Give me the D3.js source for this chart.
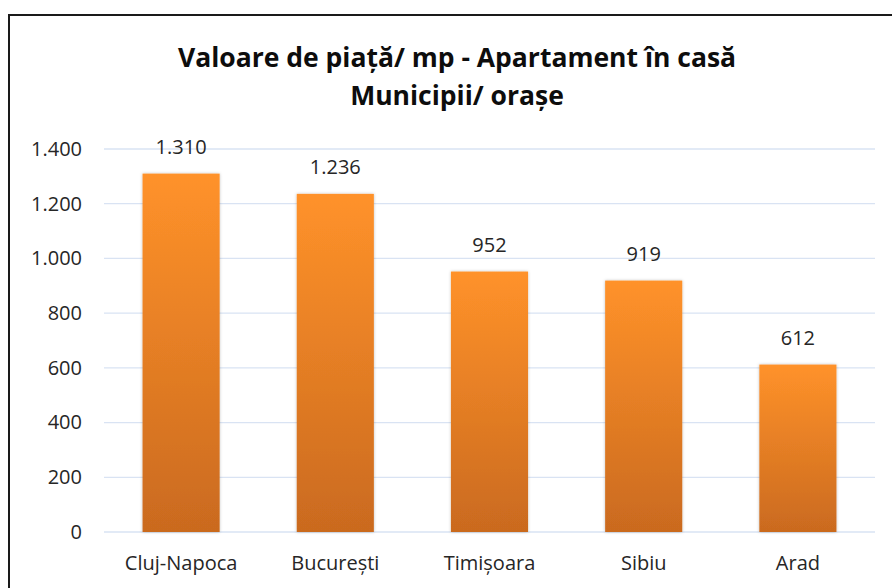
<!DOCTYPE html>
<html><head><meta charset="utf-8">
<script src="https://cdn.jsdelivr.net/npm/d3@7"></script>
<style>body{margin:0;background:#fff}svg{display:block}</style>
</head><body>
<svg id="c" width="892" height="588"></svg>
<script>
const categories = ["Cluj-Napoca","București","Timișoara","Sibiu","Arad"];
const values = [1310,1236,952,919,612];
const yTicks = [0,200,400,600,800,1000,1200,1400];
const titleLines = ["Valoare de piață/ mp - Apartament în casă","Municipii/ orașe"];

const svg = d3.select("#c");
const fmt = v => d3.format(",")(v).replace(/,/g,".");
const FONT = "'Open Sans', sans-serif";

const defs = svg.append("defs");
const g = defs.append("linearGradient").attr("id","bg").attr("x1",0).attr("y1",0).attr("x2",0).attr("y2",1);
g.append("stop").attr("offset","0%").attr("stop-color","#ff922a");
g.append("stop").attr("offset","100%").attr("stop-color","#ca6a1f");
const f = defs.append("filter").attr("id","sh").attr("x","-10%").attr("y","-10%").attr("width","120%").attr("height","120%");
f.append("feDropShadow").attr("dx",0).attr("dy",0).attr("stdDeviation",1.5).attr("flood-color","#000").attr("flood-opacity",0.25);

// outer frame
svg.append("rect").attr("x",9).attr("y",15).attr("width",900).attr("height",600)
  .attr("fill","#fff").attr("stroke","#1a1a1a").attr("stroke-width",2);

const x = d3.scaleBand().domain(categories).range([104,875]).paddingInner(0.5).paddingOuter(0.25);
const y = d3.scaleLinear().domain([0,1400]).range([532,149]);

const grid = svg.append("g");
grid.selectAll("line").data(yTicks).join("line")
  .attr("x1",104).attr("x2",875).attr("y1",d=>y(d)).attr("y2",d=>y(d))
  .attr("stroke","#d9e3f3").attr("stroke-width",1.3);

const yAxis = d3.axisLeft(y).tickValues(yTicks).tickFormat(fmt).tickSize(0).tickPadding(0);
svg.append("g").attr("transform","translate(82,0)").call(yAxis)
  .call(s=>s.select(".domain").remove())
  .selectAll("text").attr("font-family",FONT).attr("font-size",20).attr("fill","#262626");

svg.append("g").selectAll("rect").data(values).join("rect")
  .attr("x",(d,i)=>x(categories[i])).attr("width",x.bandwidth())
  .attr("y",d=>y(d)).attr("height",d=>y(0)-y(d))
  .attr("fill","url(#bg)").attr("filter","url(#sh)");

svg.append("g").selectAll("text").data(values).join("text")
  .attr("x",(d,i)=>x(categories[i])+x.bandwidth()/2).attr("y",d=>y(d)-20)
  .attr("text-anchor","middle").attr("font-family",FONT).attr("font-size",20).attr("fill","#262626")
  .text(fmt);

const xAxis = d3.axisBottom(x).tickSize(0).tickPadding(0);
svg.append("g").attr("transform","translate(0,532)").call(xAxis)
  .call(s=>s.select(".domain").remove())
  .selectAll("text").attr("dy",null).attr("y",38).attr("font-family",FONT).attr("font-size",20).attr("fill","#262626");

svg.append("g").selectAll("text").data(titleLines).join("text")
  .attr("x",457).attr("y",(d,i)=>67+i*38).attr("text-anchor","middle")
  .attr("font-family",FONT).attr("font-weight","bold").attr("font-size",26.5)
  .attr("fill","#0d0d0d").text(d=>d);
</script>
</body></html>
